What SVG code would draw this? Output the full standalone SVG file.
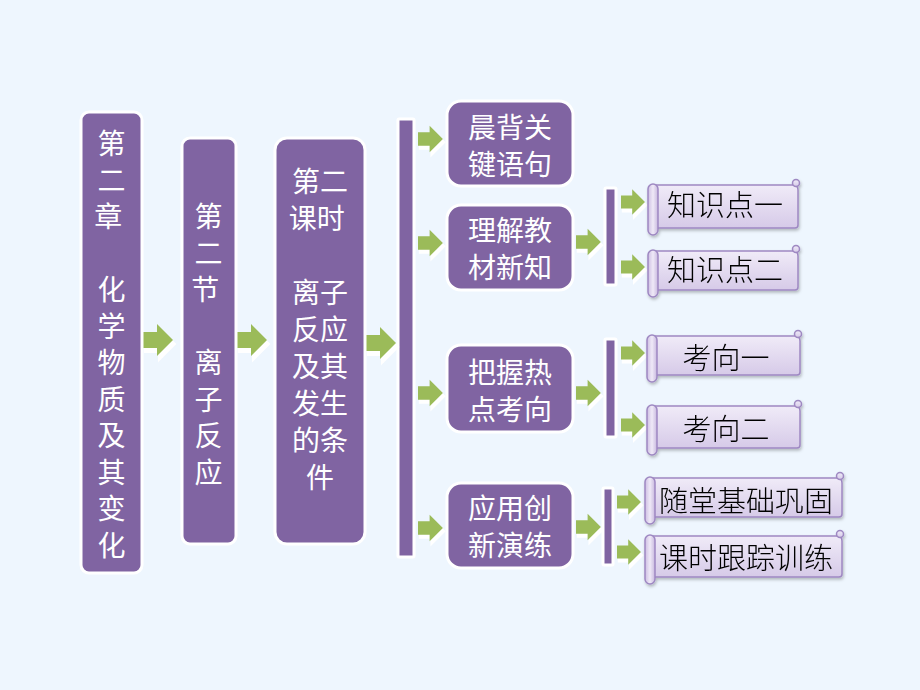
<svg xmlns="http://www.w3.org/2000/svg" xmlns:xlink="http://www.w3.org/1999/xlink" width="920" height="690" viewBox="0 0 920 690">
<defs>
<style>
.box{fill:#8064A2;stroke:#FFFFFF;stroke-width:3}
.bar{fill:#8064A2;stroke:#FFFFFF;stroke-width:3}
.wt{font-family:"Noto Sans CJK SC","Noto Sans CJK JP",sans-serif;font-size:28px;fill:#FFFFFF;text-anchor:middle}
.bt{font-family:"Noto Sans CJK SC","Noto Sans CJK JP",sans-serif;font-size:29px;fill:#000000;text-anchor:middle;font-weight:300}
.sb{fill:url(#sg);stroke:#9E88C2;stroke-width:1.5}
.sr{fill:url(#rg);stroke:#9E88C2;stroke-width:1.5}
</style>
<linearGradient id="sg" x1="0" y1="0" x2="0" y2="1">
<stop offset="0" stop-color="#F0EBF8"/>
<stop offset="1" stop-color="#D6CAE8"/>
</linearGradient>
<linearGradient id="rg" x1="0" y1="0" x2="1" y2="0">
<stop offset="0" stop-color="#CDBEE3"/>
<stop offset="0.5" stop-color="#EFE9F7"/>
<stop offset="1" stop-color="#C8B8DF"/>
</linearGradient>
<filter id="sh" x="-10%" y="-10%" width="130%" height="140%">
<feDropShadow dx="1" dy="2" stdDeviation="1.5" flood-color="#000" flood-opacity="0.25"/>
</filter>
<g id="arr">
<path d="M0,-8 H14 V-16 L30,0 L14,16 V8 H0 Z" fill="#FFFFFF" stroke="#FFFFFF" stroke-width="2" transform="translate(2,4)"/>
<path d="M0,-8 H14 V-16 L30,0 L14,16 V8 H0 Z" fill="#9BBB59"/>
</g>
</defs>
<rect x="0" y="0" width="920" height="690" fill="#EEF6FE"/>

<g id="connectors">
<rect class="bar" x="398" y="119" width="16" height="438" rx="1"/>
<rect class="bar" x="605" y="188" width="11" height="97" rx="1"/>
<rect class="bar" x="605" y="339" width="11" height="98" rx="1"/>
<rect class="bar" x="603" y="488" width="10" height="77" rx="1"/>
<use href="#arr" transform="translate(143,340)"/>
<use href="#arr" transform="translate(237,340)"/>
<use href="#arr" transform="translate(366,343)"/>
<use href="#arr" transform="translate(418,139) scale(0.83)"/>
<use href="#arr" transform="translate(418,243) scale(0.83)"/>
<use href="#arr" transform="translate(418,393) scale(0.83)"/>
<use href="#arr" transform="translate(418,528) scale(0.83)"/>
<use href="#arr" transform="translate(576,242) scale(0.83)"/>
<use href="#arr" transform="translate(576,393) scale(0.83)"/>
<use href="#arr" transform="translate(576,527) scale(0.83)"/>
<use href="#arr" transform="translate(621,202) scale(0.8)"/>
<use href="#arr" transform="translate(621,267) scale(0.8)"/>
<use href="#arr" transform="translate(621,353) scale(0.8)"/>
<use href="#arr" transform="translate(621,425) scale(0.8)"/>
<use href="#arr" transform="translate(617,502) scale(0.8)"/>
<use href="#arr" transform="translate(617,552) scale(0.8)"/>
</g>

<g id="chapter">
<rect class="box" x="81" y="112" width="61" height="461" rx="8"/>
<text class="wt">
<tspan x="111.5" y="154">第</tspan><tspan x="111.5" y="190.5">二</tspan><tspan x="111.5" y="227">章</tspan>
<tspan x="111.5" y="300">化</tspan><tspan x="111.5" y="336.5">学</tspan><tspan x="111.5" y="373">物</tspan><tspan x="111.5" y="409.5">质</tspan><tspan x="111.5" y="446">及</tspan><tspan x="111.5" y="482.5">其</tspan><tspan x="111.5" y="519">变</tspan><tspan x="111.5" y="555.5">化</tspan>
</text>
</g>

<g id="section">
<rect class="box" x="182" y="138" width="54" height="406" rx="8"/>
<text class="wt">
<tspan x="208.5" y="227">第</tspan><tspan x="208.5" y="263.5">二</tspan><tspan x="208.5" y="300">节</tspan>
<tspan x="208.5" y="373">离</tspan><tspan x="208.5" y="409.5">子</tspan><tspan x="208.5" y="446">反</tspan><tspan x="208.5" y="482.5">应</tspan>
</text>
</g>

<g id="lesson">
<rect class="box" x="275" y="138" width="90" height="406" rx="12"/>
<text class="wt">
<tspan x="320" y="192">第二</tspan><tspan x="320" y="229">课时</tspan>
<tspan x="320" y="303">离子</tspan><tspan x="320" y="340">反应</tspan><tspan x="320" y="377">及其</tspan><tspan x="320" y="414">发生</tspan><tspan x="320" y="451">的条</tspan><tspan x="320" y="488">件</tspan>
</text>
</g>

<g id="morning">
<rect class="box" x="447" y="101" width="126" height="85" rx="14"/>
<text class="wt" font-size="29"><tspan x="510" y="138">晨背关</tspan><tspan x="510" y="175">键语句</tspan></text>
</g>
<g id="understand">
<rect class="box" x="447" y="205" width="126" height="85" rx="14"/>
<text class="wt" font-size="29"><tspan x="510" y="241">理解教</tspan><tspan x="510" y="278">材新知</tspan></text>
</g>
<g id="grasp">
<rect class="box" x="447" y="345" width="126" height="87" rx="14"/>
<text class="wt" font-size="29"><tspan x="510" y="383">把握热</tspan><tspan x="510" y="420">点考向</tspan></text>
</g>
<g id="apply">
<rect class="box" x="447" y="483" width="126" height="85" rx="14"/>
<text class="wt" font-size="29"><tspan x="510" y="519">应用创</tspan><tspan x="510" y="556">新演练</tspan></text>
</g>

<g id="k1" filter="url(#sh)">
<path class="sb" d="M655,185 H793 Q798,185 798,190 V225 Q798,228 795,228 H655 Z"/>
<circle class="sb" cx="796" cy="183" r="3.5"/>
<rect class="sr" x="648" y="184" width="10" height="51" rx="5"/>
<text class="bt" x="725" y="216">知识点一</text>
</g>
<g id="k2" filter="url(#sh)">
<path class="sb" d="M655,251 H793 Q798,251 798,256 V287 Q798,290 795,290 H655 Z"/>
<circle class="sb" cx="796" cy="249" r="3.5"/>
<rect class="sr" x="648" y="250" width="10" height="47" rx="5"/>
<text class="bt" x="725" y="281">知识点二</text>
</g>
<g id="d1" filter="url(#sh)">
<path class="sb" d="M655,336 H795 Q800,336 800,341 V372 Q800,375 797,375 H655 Z"/>
<circle class="sb" cx="798" cy="334" r="3.5"/>
<rect class="sr" x="647" y="335" width="10" height="47" rx="5"/>
<text class="bt" x="726" y="369">考向一</text>
</g>
<g id="d2" filter="url(#sh)">
<path class="sb" d="M655,406 H795 Q800,406 800,411 V445 Q800,448 797,448 H655 Z"/>
<circle class="sb" cx="798" cy="404" r="3.5"/>
<rect class="sr" x="647" y="405" width="10" height="50" rx="5"/>
<text class="bt" x="726" y="440">考向二</text>
</g>
<g id="p1" filter="url(#sh)">
<path class="sb" d="M652,478 H837 Q842,478 842,483 V514 Q842,517 839,517 H652 Z"/>
<circle class="sb" cx="840" cy="476" r="3.5"/>
<rect class="sr" x="645" y="477" width="10" height="47" rx="5"/>
<text class="bt" x="746" y="512" font-size="30">随堂基础巩固</text>
</g>
<g id="p2" filter="url(#sh)">
<path class="sb" d="M652,536 H837 Q842,536 842,541 V574 Q842,577 839,577 H652 Z"/>
<circle class="sb" cx="840" cy="534" r="3.5"/>
<rect class="sr" x="645" y="535" width="10" height="49" rx="5"/>
<text class="bt" x="746" y="569" font-size="30">课时跟踪训练</text>
</g>
</svg>
